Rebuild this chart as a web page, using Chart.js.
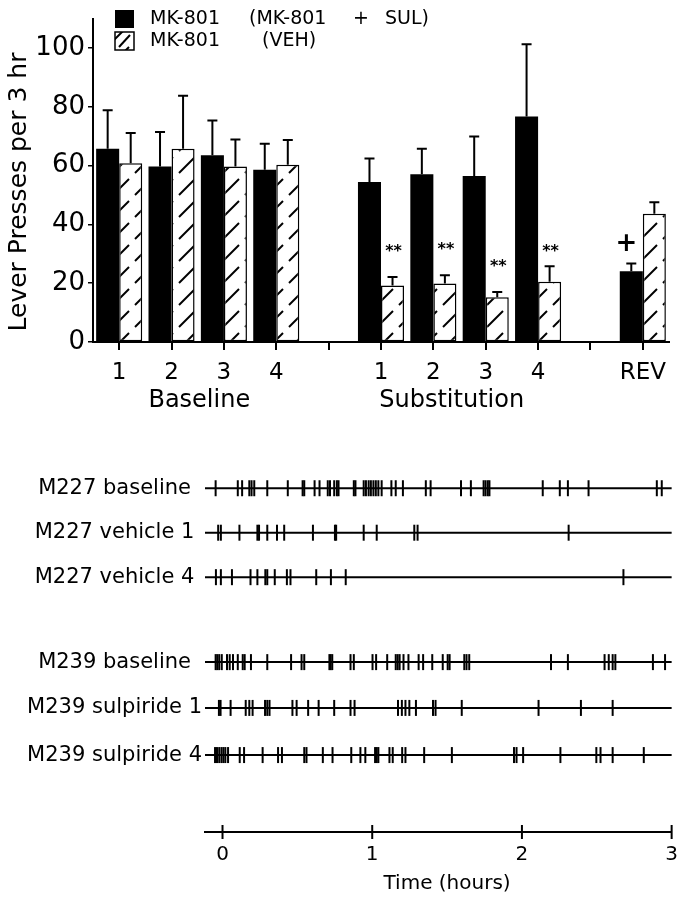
<!DOCTYPE html>
<html><head><meta charset="utf-8">
<script src="https://cdn.jsdelivr.net/npm/chart.js@4/dist/chart.umd.min.js"></script>
<style>
html,body{margin:0;padding:0;background:#fff;}
#top{position:absolute;left:0;top:0;width:689px;height:420px;}
#bot{position:absolute;left:0;top:440px;width:689px;height:460px;}
</style></head><body>
<div id="top"><canvas id="c1"></canvas></div>
<div id="bot"><canvas id="c2"></canvas></div>
<script>
// ---------- bar chart data ----------
const categories = ['1','2','3','4','','1','2','3','4','','REV'];
const groupLabels = ['Baseline','Substitution'];
const groupCenters = [1.53, 6.35]; // category position under which each group label is centred
const legendSul = ['MK-801','(MK-801','+','SUL)'];
const legendVeh = ['MK-801','(VEH)'];
const sulMeans = [65.7, 59.7, 63.5, 58.6, null, 54.4, 57.1, 56.5, 76.7, null, 24.1];
const sulSEM   = [13.1, 11.7, 11.8,  8.8, null,  8.0,  8.6, 13.4, 24.6, null,  2.6];
const vehMeans = [60.8, 65.7, 59.7, 60.3, null, 19.2, 19.9, 15.2, 20.5, null, 43.6];
const vehSEM   = [10.3, 18.1,  9.2,  8.4, null,  2.9,  2.8,  1.8,  5.3, null,  3.9];
const sulMarks = ['', '', '', '', '', '', '', '', '', '', '+'];
const sulMarkLevel = [null,null,null,null,null,null,null,null,null,null,33.4];
const vehMarks = ['', '', '', '', '', '**', '**', '**', '**', '', ''];
const vehMarkLevel = [null,null,null,null,null,30.6,31.4,25.7,30.6,null,null];
const yLabelValues = [0,20,40,60,80,100];
const yAxisTitle = 'Lever Presses per 3 hr';

// ---------- raster data (event times, hours) ----------
const rowLabels = ['M227 baseline','M227 vehicle 1','M227 vehicle 4','M239 baseline','M239 sulpiride 1','M239 sulpiride 4'];
const m227Baseline = [-0.046,0.102,0.131,0.179,0.194,0.212,0.299,0.436,0.535,0.546,0.615,0.648,0.703,0.718,0.746,0.764,0.775,0.877,0.888,0.943,0.958,0.976,0.991,1.008,1.024,1.041,1.063,1.128,1.157,1.205,1.358,1.390,1.593,1.659,1.744,1.757,1.772,1.783,2.139,2.253,2.307,2.445,2.901,2.934];
const m227Vehicle1 = [-0.029,-0.011,0.113,0.233,0.244,0.299,0.364,0.412,0.604,0.751,0.759,0.943,1.030,1.281,1.303,2.312];
const m227Vehicle4 = [-0.044,-0.011,0.063,0.187,0.233,0.286,0.299,0.349,0.430,0.454,0.626,0.724,0.823,2.678];
const m239Baseline = [-0.046,-0.035,-0.022,-0.005,0.030,0.048,0.070,0.102,0.135,0.148,0.190,0.299,0.458,0.528,0.546,0.714,0.722,0.733,0.855,0.877,1.002,1.026,1.100,1.157,1.170,1.183,1.209,1.242,1.310,1.340,1.401,1.471,1.504,1.517,1.615,1.630,1.648,2.194,2.307,2.552,2.580,2.606,2.624,2.875,2.956];
const m239Sulpiride1 = [-0.024,-0.013,0.054,0.155,0.179,0.201,0.284,0.299,0.314,0.467,0.495,0.572,0.642,0.746,0.855,0.882,1.172,1.198,1.222,1.248,1.292,1.406,1.423,1.598,2.111,2.394,2.606];
const m239Sulpiride4 = [-0.050,-0.037,-0.022,-0.007,0.006,0.019,0.037,0.115,0.144,0.268,0.371,0.397,0.546,0.561,0.670,0.735,0.860,0.921,0.954,1.019,1.030,1.041,1.115,1.137,1.200,1.222,1.347,1.532,1.947,1.964,2.008,2.257,2.497,2.525,2.606,2.814];
const rowEvents = [m227Baseline,m227Vehicle1,m227Vehicle4,m239Baseline,m239Sulpiride1,m239Sulpiride4];
const timeTickValues = [0,1,2,3];
const timeTitle = 'Time (hours)';

const FONT = "'DejaVu Sans', sans-serif";

// hatch pattern
function makeHatch(){
  const s = 22, c = document.createElement('canvas'); c.width = s; c.height = s;
  const g = c.getContext('2d');
  g.fillStyle = '#fff'; g.fillRect(0,0,s,s);
  g.strokeStyle = '#000'; g.lineWidth = 2;
  g.beginPath(); g.moveTo(3, s-3); g.lineTo(s-3, 3); g.stroke();
  return g.createPattern(c, 'repeat');
}
const hatch = makeHatch();

const errorBars = {
  id: 'errorBars',
  afterDatasetsDraw(chart){
    const ctx = chart.ctx, ys = chart.scales.y;
    chart.data.datasets.forEach((ds, di) => {
      const meta = chart.getDatasetMeta(di);
      meta.data.forEach((el, i) => {
        const v = ds.data[i], e = ds.sem[i];
        if (v == null || e == null) return;
        const yTop = ys.getPixelForValue(v + e);
        ctx.save(); ctx.strokeStyle = '#000'; ctx.lineWidth = 2;
        ctx.beginPath(); ctx.moveTo(el.x, el.y); ctx.lineTo(el.x, yTop);
        ctx.moveTo(el.x - 5, yTop); ctx.lineTo(el.x + 5, yTop); ctx.stroke();
        const mk = ds.marks[i];
        if (mk) {
          ctx.fillStyle = '#000'; ctx.textAlign = 'center'; ctx.textBaseline = 'middle';
          ctx.font = mk === '+' ? "bold 26px " + FONT : "bold 16px " + FONT;
          ctx.fillText(mk, el.x - (mk === '+' ? 5 : -1), ys.getPixelForValue(ds.markLevel[i]));
        }
        ctx.restore();
      });
    });
  }
};

const decor = {
  id: 'decor',
  afterDraw(chart){
    const ctx = chart.ctx, xs = chart.scales.x, ca = chart.chartArea;
    ctx.save();
    ctx.fillStyle = '#000';
    // group labels
    ctx.font = "24px " + FONT; ctx.textAlign = 'center'; ctx.textBaseline = 'middle';
    groupLabels.forEach((g, i) => {
      ctx.fillText(g, xs.getPixelForValue(groupCenters[i]), ca.bottom + 59);
    });
    // y title
    ctx.save(); ctx.translate(19, ca.bottom - 150); ctx.rotate(-Math.PI/2);
    ctx.font = "25px " + FONT; ctx.fillText(yAxisTitle, 0, 0); ctx.restore();
    // legend
    const lx = ca.left + 22;
    ctx.fillRect(lx, 10, 19, 18);
    ctx.fillStyle = hatch; ctx.fillRect(lx, 32, 19, 18);
    ctx.strokeStyle = '#000'; ctx.lineWidth = 1.5; ctx.strokeRect(lx, 32, 19, 18);
    ctx.lineWidth = 2;
    ctx.beginPath(); ctx.moveTo(lx + 4, 47); ctx.lineTo(lx + 15, 35); ctx.stroke();
    ctx.fillStyle = '#000';
    ctx.font = "19px " + FONT; ctx.textAlign = 'left';
    const col1 = [0, 99, 203, 235], col2 = [0, 112];
    legendSul.forEach((t, i) => ctx.fillText(t, lx + 35 + col1[i], 19));
    legendVeh.forEach((t, i) => ctx.fillText(t, lx + 35 + col2[i], 41));
    ctx.restore();
  }
};

new Chart(document.getElementById('c1'), {
  type: 'bar',
  data: {
    labels: categories,
    datasets: [
      { label: legendSul.join(' '), data: sulMeans, sem: sulSEM, marks: sulMarks, markLevel: sulMarkLevel,
        backgroundColor: '#000', borderColor: '#000', borderWidth: 0 },
      { label: legendVeh.join(' '), data: vehMeans, sem: vehSEM, marks: vehMarks, markLevel: vehMarkLevel,
        backgroundColor: hatch, borderColor: '#000', borderWidth: 1.5, borderSkipped: false }
    ]
  },
  options: {
    responsive: true, maintainAspectRatio: false, animation: false,
    layout: { padding: { top: 11, right: 20, left: 0, bottom: 0 } },
    datasets: { bar: { categoryPercentage: 0.88, barPercentage: 1.0, grouped: true } },
    plugins: { legend: { display: false }, tooltip: { enabled: false } },
    scales: {
      x: {
        afterFit: s => { s.height = 78; },
        grid: { display: true, drawOnChartArea: false, drawTicks: true, tickLength: 8, offset: false, color: '#000', lineWidth: 2 },
        border: { display: true, color: '#000', width: 2 },
        ticks: { color: '#000', font: { family: FONT, size: 23 }, padding: 9, autoSkip: false, maxRotation: 0 }
      },
      y: {
        min: 0, max: 110,
        afterFit: s => { s.width = 93; },
        grid: { display: true, drawOnChartArea: false, drawTicks: true, tickLength: 5, color: '#000', lineWidth: 1.5 },
        border: { display: true, color: '#000', width: 2 },
        ticks: { stepSize: 10, color: '#000', font: { family: FONT, size: 26 }, padding: 3,
          callback: v => yLabelValues.includes(v) ? String(v) : '' }
      }
    }
  },
  plugins: [errorBars, decor]
});

// ---------- raster chart ----------
const rowY = [0, 1, 2, 3.91, 4.94, 6.0];
const X_MIN = -0.117, X_MAX = 3.0, Y_AXIS = 7.73;
const rasterSets = [];
rowEvents.forEach((ev, r) => {
  rasterSets.push({ type: 'line', data: [{x: X_MIN, y: rowY[r]}, {x: X_MAX, y: rowY[r]}],
    borderColor: '#000', borderWidth: 2, pointRadius: 0, clip: false });
  rasterSets.push({ type: 'scatter', data: ev.map(t => ({x: t, y: rowY[r]})),
    pointStyle: 'line', rotation: 90, radius: 8, pointRadius: 8, borderColor: '#000', borderWidth: 2,
    backgroundColor: '#000', clip: false });
});

const timeAxisDecor = {
  id: 'timeAxisDecor',
  afterDraw(chart){
    const ctx = chart.ctx, xs = chart.scales.x, yb = chart.chartArea.bottom;
    ctx.save(); ctx.strokeStyle = '#000'; ctx.lineWidth = 2;
    xs.ticks.forEach(t => {
      const px = xs.getPixelForValue(t.value);
      ctx.beginPath(); ctx.moveTo(px, yb - 7); ctx.lineTo(px, yb + 7); ctx.stroke();
    });
    const cx = (xs.getPixelForValue(timeTickValues[0]) + xs.getPixelForValue(timeTickValues[timeTickValues.length - 1])) / 2;
    ctx.fillStyle = '#000'; ctx.font = "20px " + FONT; ctx.textAlign = 'center'; ctx.textBaseline = 'middle';
    ctx.fillText(timeTitle, cx, yb + 52);
    ctx.restore();
  }
};

new Chart(document.getElementById('c2'), {
  type: 'scatter',
  data: { datasets: rasterSets },
  options: {
    responsive: true, maintainAspectRatio: false, animation: false,
    layout: { padding: { top: 26, right: 8, left: 0, bottom: 0 } },
    plugins: { legend: { display: false }, tooltip: { enabled: false } },
    scales: {
      x: {
        type: 'linear', min: X_MIN, max: X_MAX,
        afterFit: s => { s.height = 68; },
        afterBuildTicks: a => { a.ticks = timeTickValues.map(v => ({ value: v })); },
        grid: { display: false, drawTicks: false },
        border: { display: true, color: '#000', width: 2 },
        ticks: { color: '#000', font: { family: FONT, size: 20 }, padding: 11, callback: v => String(v) }
      },
      y: {
        type: 'linear', reverse: true, min: -0.5, max: Y_AXIS,
        afterFit: s => { s.width = 205; },
        afterBuildTicks: a => { a.ticks = rowY.map(v => ({ value: v })); },
        grid: { display: false, drawTicks: false },
        border: { display: false },
        ticks: { color: '#000', font: { family: FONT, size: 21 }, padding: 3, crossAlign: 'center', autoSkip: false,
          callback: (v, i) => rowLabels[i] }
      }
    }
  },
  plugins: [timeAxisDecor]
});
</script>
</body></html>
